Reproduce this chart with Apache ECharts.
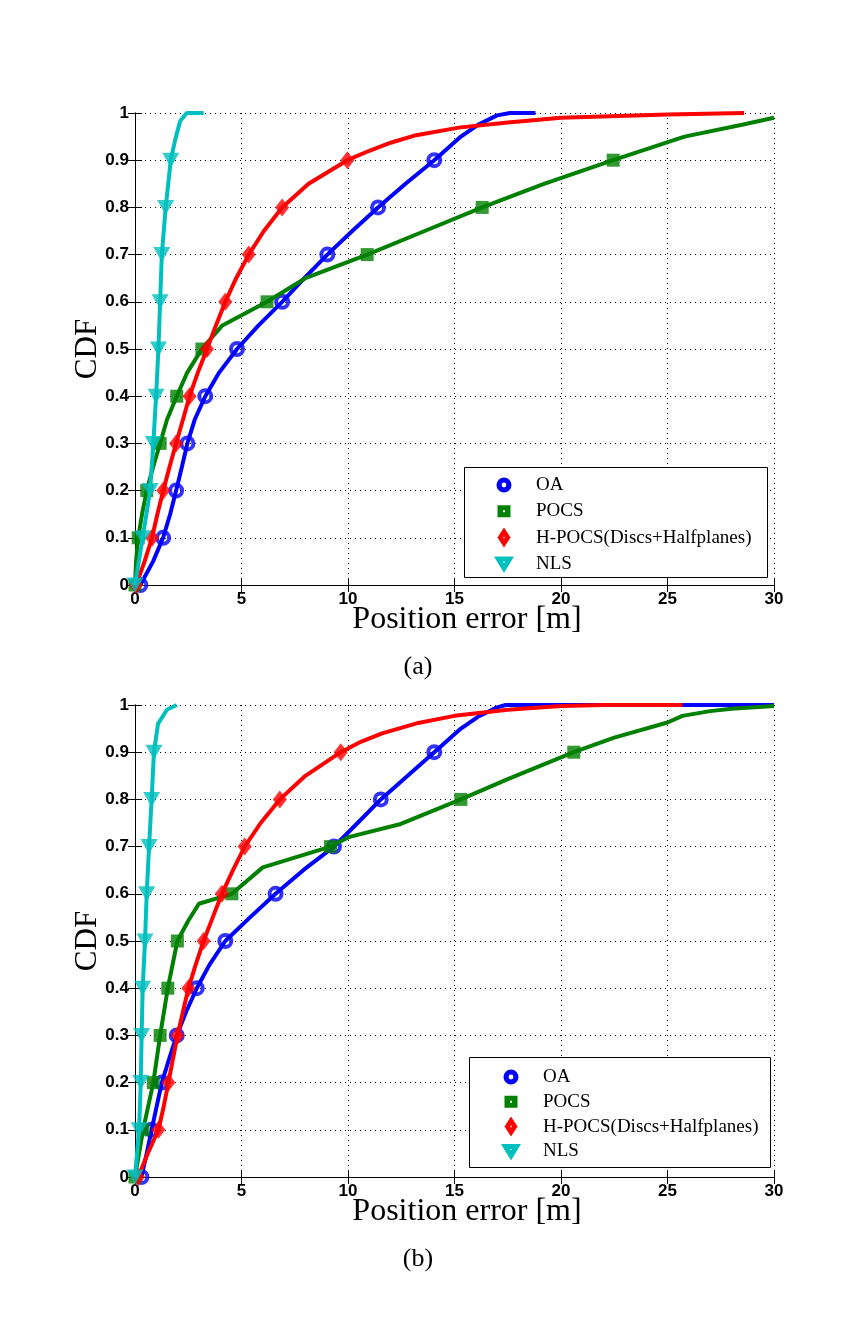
<!DOCTYPE html>
<html><head><meta charset="utf-8">
<script src="https://cdn.jsdelivr.net/npm/echarts@6/dist/echarts.min.js"></script>
<style>html,body{margin:0;padding:0;background:#fff}#c{width:867px;height:1332px}</style>
</head><body><div id="c"></div>
<script>
// ---------- data ----------
const xTicks = [0, 5, 10, 15, 20, 25, 30];
const yTicks = [0, 0.1, 0.2, 0.3, 0.4, 0.5, 0.6, 0.7, 0.8, 0.9, 1];
const seriesNames = ['OA', 'POCS', 'H-POCS(Discs+Halfplanes)', 'NLS'];
const markerLevels = [0, 0.1, 0.2, 0.3, 0.4, 0.5, 0.6, 0.7, 0.8, 0.9];

// panel (a)
const aOA_x = [0.25,0.85,1.32,1.65,1.93,2.2,2.46,2.8,3.3,3.95,4.79,5.8,6.91,7.95,9.03,10.2,11.41,12.7,14.05,15.3,16.1,17.0,17.6,18.8];
const aOA_y = [0,0.05,0.1,0.15,0.2,0.25,0.3,0.35,0.4,0.45,0.5,0.55,0.6,0.65,0.7,0.75,0.8,0.85,0.9,0.95,0.975,0.995,1,1];
const aOA_m = [0.25,1.32,1.93,2.46,3.3,4.79,6.91,9.03,11.41,14.05];

const aPOCS_x = [0,0.05,0.15,0.33,0.55,0.85,1.18,1.5,1.96,2.45,3.14,4.1,6.2,8.0,10.9,13.6,16.3,19.2,22.45,25.8,28.5,30];
const aPOCS_y = [0,0.05,0.1,0.15,0.2,0.25,0.3,0.35,0.4,0.45,0.5,0.55,0.6,0.65,0.7,0.75,0.8,0.85,0.9,0.95,0.975,0.99];
const aPOCS_m = [0,0.15,0.55,1.18,1.96,3.14,6.2,10.9,16.3,22.45];

const aHP_x = [0.05,0.45,0.8,1.05,1.33,1.62,1.93,2.25,2.56,2.95,3.38,3.8,4.24,4.75,5.34,6.05,6.91,8.15,9.97,11.0,12.0,13.2,15.2,17.5,20,25,28.6];
const aHP_y = [0,0.05,0.1,0.15,0.2,0.25,0.3,0.35,0.4,0.45,0.5,0.55,0.6,0.65,0.7,0.75,0.8,0.85,0.9,0.92,0.937,0.953,0.969,0.98,0.99,0.997,1];
const aHP_m = [0.05,0.8,1.33,1.93,2.56,3.38,4.24,5.34,6.91,9.97];

const aNLS_x = [0,0.36,0.71,0.86,0.99,1.1,1.18,1.26,1.44,1.68,1.88,2.12,2.43,3.22];
const aNLS_y = [0,0.1,0.2,0.3,0.4,0.5,0.6,0.7,0.8,0.9,0.942,0.983,1,1];
const aNLS_m = [0,0.36,0.71,0.86,0.99,1.1,1.18,1.26,1.44,1.68];

// panel (b)
const bOA_x = [0.3,0.55,0.78,1.02,1.26,1.6,1.96,2.4,2.9,3.5,4.24,5.4,6.6,7.9,9.34,10.45,11.54,12.8,14.05,15.3,16.1,17.0,17.4,30];
const bOA_y = [0,0.05,0.1,0.15,0.2,0.25,0.3,0.35,0.4,0.45,0.5,0.55,0.6,0.65,0.7,0.75,0.8,0.85,0.9,0.95,0.975,0.995,1,1];
const bOA_m = [0.3,0.78,1.26,1.96,2.9,4.24,6.6,9.34,11.54,14.05];

const bPOCS_x = [0,0.38,0.86,1.18,1.54,1.99,2.5,3.0,4.55,6.0,9.18,10.03,12.48,15.3,17.5,20.6,22.5,25.0,25.7,27,28,30];
const bPOCS_y = [0,0.1,0.2,0.3,0.4,0.5,0.543,0.579,0.6,0.656,0.7,0.72,0.748,0.8,0.843,0.9,0.931,0.963,0.977,0.987,0.992,0.998];
const bPOCS_m = [0,0.38,0.86,1.18,1.54,1.99,4.55,9.18,15.3,20.6];

const bHP_x = [0.15,0.6,1.1,1.35,1.57,1.78,2.0,2.25,2.51,2.85,3.22,3.65,4.08,4.6,5.15,5.9,6.8,8.0,9.66,10.6,11.6,13.3,15,17.5,20,22,25.7];
const bHP_y = [0,0.05,0.1,0.15,0.2,0.25,0.3,0.35,0.4,0.45,0.5,0.55,0.6,0.65,0.7,0.75,0.8,0.85,0.9,0.922,0.94,0.962,0.977,0.99,0.998,1,1];
const bHP_m = [0.15,1.1,1.57,2.0,2.51,3.22,4.08,5.15,6.8,9.66];

const bNLS_x = [0,0.19,0.27,0.31,0.36,0.47,0.55,0.66,0.78,0.89,1.08,1.5,1.96];
const bNLS_y = [0,0.1,0.2,0.3,0.4,0.5,0.6,0.7,0.8,0.9,0.96,0.99,1];
const bNLS_m = [0,0.19,0.27,0.31,0.36,0.47,0.55,0.66,0.78,0.89];

// ---------- styling ----------
const colors = ['#0000ff', '#008000', '#ff0000', '#00bfbf'];
const triDown = 'path://M0,0L16,0L8,14Z';
const markerStyles = [
  { symbol: 'circle', symbolSize: 12, itemStyle: { color: 'rgba(0,0,0,0)', borderColor: colors[0], borderWidth: 4 } },
  { symbol: 'rect', symbolSize: 13, itemStyle: { color: colors[1], borderWidth: 0 } },
  { symbol: 'diamond', symbolSize: [14, 18], itemStyle: { color: colors[2], borderWidth: 0 } },
  { symbol: triDown, symbolSize: [17, 15], itemStyle: { color: colors[3], borderWidth: 0 } }
];
// legend icons (MATLAB style, with white centre), common 20x20 bbox
const pad = 'M0,0L0,0M20,20L20,20';
const legendIcons = [
  'path://' + pad + 'M10,2.5A7.5,7.5 0 1,1 10,17.5A7.5,7.5 0 1,1 10,2.5Z M10,7.6A2.4,2.4 0 1,0 10,12.4A2.4,2.4 0 1,0 10,7.6Z',
  'path://' + pad + 'M3.5,4H16.5V16H3.5Z M9,9V11H11V9Z',
  'path://' + pad + 'M10,0L16.5,10L10,20L3.5,10Z M10,9L9,10L10,11L11,10Z',
  'path://' + pad + 'M0,2.5H20L10,19Z M9.2,7.5V8.5H10.8V7.5Z'
];

const panels = [
  { top: 113, xs: [aOA_x, aPOCS_x, aHP_x, aNLS_x], ys: [aOA_y, aPOCS_y, aHP_y, aNLS_y], ms: [aOA_m, aPOCS_m, aHP_m, aNLS_m],
    legend: { left: 494, top: 475, gap: 6.3 }, box: [464, 467, 303, 110], label: '(a)' },
  { top: 705, xs: [bOA_x, bPOCS_x, bHP_x, bNLS_x], ys: [bOA_y, bPOCS_y, bHP_y, bNLS_y], ms: [bOA_m, bPOCS_m, bHP_m, bNLS_m],
    legend: { left: 501, top: 1067, gap: 4.8 }, box: [469, 1057, 301, 110], label: '(b)' }
];

const GL = 135, GW = 639, GH = 472;
const tickFont = { fontFamily: 'Liberation Sans', fontSize: 17, fontWeight: 'bold', color: '#000' };
const serif = 'Liberation Serif';

const grid = [], xAxis = [], yAxis = [], series = [], legend = [], graphic = [];
panels.forEach((p, pi) => {
  grid.push({ left: GL, top: p.top, width: GW, height: GH, show: false });
  const axLine = { show: true, lineStyle: { color: '#000', width: 1 } };
  const tick = { show: true, inside: true, length: 7, lineStyle: { color: '#000', width: 1 } };
  xAxis.push({ type: 'value', gridIndex: pi, min: xTicks[0], max: xTicks[xTicks.length - 1], interval: 5, position: 'bottom',
    axisLine: axLine, axisTick: tick,
    axisLabel: Object.assign({ margin: 6, formatter: v => String(v) }, tickFont),
    splitLine: { show: true, lineStyle: { color: '#000', width: 1, type: [1, 4] } } });
  xAxis.push({ type: 'value', gridIndex: pi, min: xTicks[0], max: xTicks[xTicks.length - 1], interval: 5, position: 'top',
    axisLine: axLine, axisTick: tick, axisLabel: { show: false }, splitLine: { show: false } });
  yAxis.push({ type: 'value', gridIndex: pi, min: yTicks[0], max: yTicks[yTicks.length - 1], interval: 0.1, position: 'left',
    axisLine: axLine, axisTick: tick,
    axisLabel: Object.assign({ margin: 6, formatter: v => String(Math.round(v * 10) / 10) }, tickFont),
    splitLine: { show: true, lineStyle: { color: '#000', width: 1, type: [1, 4] } } });
  yAxis.push({ type: 'value', gridIndex: pi, min: yTicks[0], max: yTicks[yTicks.length - 1], interval: 0.1, position: 'right',
    axisLine: axLine, axisTick: tick, axisLabel: { show: false }, splitLine: { show: false } });

  for (let s = 0; s < 4; s++) {
    const xs = p.xs[s], ys = p.ys[s], ms = p.ms[s];
    series.push({ type: 'line', name: seriesNames[s], xAxisIndex: pi * 2, yAxisIndex: pi * 2,
      showSymbol: false, symbol: 'none', smooth: false, z: 2 + s * 0.1,
      lineStyle: { color: colors[s], width: 4 }, itemStyle: { color: colors[s] },
      data: xs.map((x, i) => [x, ys[i]]) });
    series.push(Object.assign({ type: 'scatter', name: seriesNames[s], xAxisIndex: pi * 2, yAxisIndex: pi * 2,
      z: 2 + s * 0.1 + 0.05, clip: false,
      data: ms.map((x, i) => [x, markerLevels[i]]) }, markerStyles[s]));
  }

  legend.push({ orient: 'vertical', left: p.legend.left, top: p.legend.top, padding: 0, itemGap: p.legend.gap,
    itemWidth: 54, itemHeight: 20, selectedMode: false, z: 10,
    textStyle: { fontFamily: serif, fontSize: 19, color: '#000', lineHeight: 20 },
    data: seriesNames.map((n, s) => ({ name: n, icon: legendIcons[s],
      itemStyle: { color: colors[s], borderWidth: 0, opacity: 1 } })) });

  const b = p.box;
  graphic.push({ type: 'rect', z: 5, shape: { x: b[0] + 0.5, y: b[1] + 0.5, width: b[2], height: b[3] },
    style: { fill: '#fff', stroke: '#000', lineWidth: 1 } });
  graphic.push({ type: 'text', z: 6, x: 88, y: p.top + GH / 2, rotation: Math.PI / 2,
    style: { text: 'CDF', font: '31px "' + serif + '"', fill: '#000', textAlign: 'center', textVerticalAlign: 'middle' } });
  graphic.push({ type: 'text', z: 6, x: 467, y: p.top + GH + 35,
    style: { text: 'Position error [m]', font: '32px "' + serif + '"', fill: '#000', textAlign: 'center', textVerticalAlign: 'middle' } });
  graphic.push({ type: 'text', z: 6, x: 418, y: p.top + GH + 82,
    style: { text: p.label, font: '26px "' + serif + '"', fill: '#000', textAlign: 'center', textVerticalAlign: 'middle' } });
});

const chart = echarts.init(document.getElementById('c'), null, { renderer: 'canvas' });
chart.setOption({ animation: false, backgroundColor: '#fff', grid, xAxis, yAxis, series, legend, graphic });
</script>
</body></html>
